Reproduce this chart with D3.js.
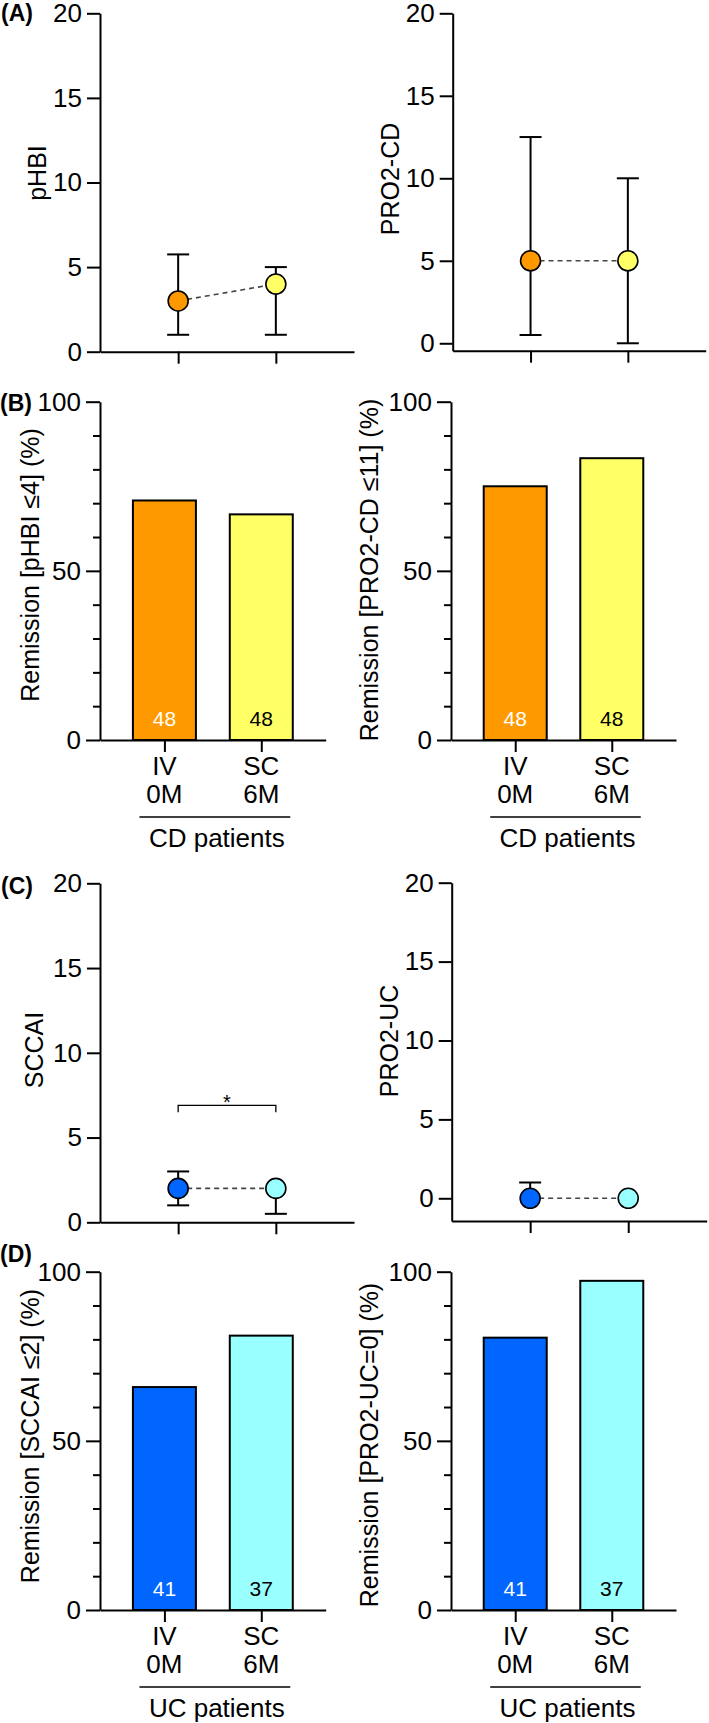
<!DOCTYPE html>
<html>
<head>
<meta charset="utf-8">
<script src="https://cdn.jsdelivr.net/npm/d3@7"></script>
<style>
  html, body { margin: 0; padding: 0; background: #fff; }
  svg { display: block; font-family: "Liberation Sans", Arial, Helvetica, sans-serif; }
</style>
</head>
<body>
<svg id="chart" width="709" height="1723"></svg>
<script>
// ---------------- DATA ----------------
const timepoints = ["IV 0M", "SC 6M"];
const tickLine1 = ["IV", "SC"];
const tickLine2 = ["0M", "6M"];
const scoreTicks = [0, 5, 10, 15, 20];
const pctMajorTicks = [0, 50, 100];
const pctMinorTicks = [10, 20, 30, 40, 60, 70, 80, 90];

// (A) CD activity scores: median with interquartile range
const pHBIMedian = [3, 4];
const pHBILow = [1, 1];
const pHBIHigh = [5.75, 5];
const pro2cdMedian = [5, 5];
const pro2cdLow = [0.5, 0];
const pro2cdHigh = [12.5, 10];

// (B) CD remission rates (%)
const remissionPHBI = [70.8, 66.7];
const remissionPRO2CD = [75.0, 83.3];
const nCD = [48, 48];

// (C) UC activity scores
const sccaiMedian = [2, 2];
const sccaiLow = [1, 0.5];
const sccaiHigh = [3, 2];
const pro2ucMedian = [0, 0];
const pro2ucLow = [0, 0];
const pro2ucHigh = [1, 0];
const sccaiSignificance = 6.9; // bracket level, label "*"

// (D) UC remission rates (%)
const remissionSCCAI = [65.9, 81.1];
const remissionPRO2UC = [80.5, 97.3];
const nUC = [41, 37];

const cdColors = ["#FF9900", "#FFFF66"];
const ucColors = ["#0066FF", "#99FFFF"];
const countColors = ["#FFFFFF", "#000000"];

// ---------------- DRAWING ----------------
const svg = d3.select("#chart");
const FONT = 26;

function styleAxis(g) {
  g.attr("font-family", null).attr("font-size", null);
  g.selectAll("path.domain").attr("stroke", "#000").attr("stroke-width", 2);
  g.selectAll(".tick line").attr("stroke", "#000").attr("stroke-width", 2);
  g.selectAll(".tick text").attr("fill", "#000").style("font-size", FONT + "px");
}

function yTitle(text, x, cy) {
  svg.append("text")
    .attr("transform", `translate(${x},${cy}) rotate(-90)`)
    .attr("text-anchor", "middle")
    .style("font-size", "25px")
    .text(text);
}

function panelLetter(text, x, y) {
  svg.append("text").attr("x", x).attr("y", y)
    .style("font-size", "23px").style("font-weight", "bold").text(text);
}

function scatterPanel(cfg) {
  const y = d3.scaleLinear().domain([cfg.yMin, 20]).range([cfg.bottom, cfg.top]);
  const x = d3.scalePoint().domain(timepoints).range([cfg.left, cfg.right]).padding(0.8);
  const yAxis = svg.append("g").attr("transform", `translate(${cfg.left},0)`)
    .call(d3.axisLeft(y).tickValues(scoreTicks).tickSize(13).tickPadding(5).tickSizeOuter(0));
  styleAxis(yAxis);
  const xAxis = svg.append("g").attr("transform", `translate(0,${cfg.bottom})`)
    .call(d3.axisBottom(x).tickSize(12).tickSizeOuter(0).tickFormat(""));
  styleAxis(xAxis);

  const rows = timepoints.map((t, i) => ({ t, m: cfg.median[i], lo: cfg.low[i], hi: cfg.high[i], c: cfg.colors[i] }));
  // connecting dashed line
  svg.append("path").datum(rows)
    .attr("d", d3.line().x(d => x(d.t)).y(d => y(d.m)))
    .attr("fill", "none").attr("stroke", "#444").attr("stroke-width", 1.6)
    .attr("stroke-dasharray", "5,4");
  // error bars
  const eb = svg.append("g").attr("stroke", "#000").attr("stroke-width", 2);
  rows.forEach(d => {
    if (d.hi > d.m) {
      eb.append("line").attr("x1", x(d.t)).attr("x2", x(d.t)).attr("y1", y(d.m)).attr("y2", y(d.hi));
      eb.append("line").attr("x1", x(d.t) - 11).attr("x2", x(d.t) + 11).attr("y1", y(d.hi)).attr("y2", y(d.hi));
    }
    if (d.lo < d.m) {
      eb.append("line").attr("x1", x(d.t)).attr("x2", x(d.t)).attr("y1", y(d.m)).attr("y2", y(d.lo));
      eb.append("line").attr("x1", x(d.t) - 11).attr("x2", x(d.t) + 11).attr("y1", y(d.lo)).attr("y2", y(d.lo));
    }
  });
  svg.append("g").selectAll("circle").data(rows).join("circle")
    .attr("cx", d => x(d.t)).attr("cy", d => y(d.m)).attr("r", 10)
    .attr("fill", d => d.c).attr("stroke", "#000").attr("stroke-width", 1.6);

  if (cfg.sig != null) {
    const yb = y(cfg.sig);
    const x1 = x(timepoints[0]), x2 = x(timepoints[1]);
    svg.append("path")
      .attr("d", `M${x1},${yb + 7}V${yb}H${x2}V${yb + 7}`)
      .attr("fill", "none").attr("stroke", "#000").attr("stroke-width", 1.3);
    svg.append("text").attr("x", (x1 + x2) / 2).attr("y", yb + 4)
      .attr("text-anchor", "middle").style("font-size", "20px").text("*");
  }
  yTitle(cfg.title, cfg.titleX, cfg.titleY);
}

function barPanel(cfg) {
  const y = d3.scaleLinear().domain([0, 100]).range([cfg.bottom, cfg.top]);
  const x = d3.scalePoint().domain(timepoints).range([cfg.left, cfg.right]).padding(0.665);
  const bw = 63;
  const yAxis = svg.append("g").attr("transform", `translate(${cfg.left},0)`)
    .call(d3.axisLeft(y).tickValues(pctMajorTicks).tickSize(14).tickPadding(5).tickSizeOuter(0));
  styleAxis(yAxis);
  const yMinor = svg.append("g").attr("transform", `translate(${cfg.left},0)`)
    .call(d3.axisLeft(y).tickValues(pctMinorTicks).tickSize(7).tickFormat(""));
  styleAxis(yMinor);
  yMinor.select("path.domain").remove();

  const rows = timepoints.map((t, i) => ({ t, v: cfg.values[i], n: cfg.n[i], c: cfg.colors[i], tc: countColors[i], i }));
  svg.append("g").selectAll("rect").data(rows).join("rect")
    .attr("x", d => x(d.t) - bw / 2).attr("width", bw)
    .attr("y", d => y(d.v)).attr("height", d => y(0) - y(d.v))
    .attr("fill", d => d.c).attr("stroke", "#000").attr("stroke-width", 2);
  svg.append("g").selectAll("text").data(rows).join("text")
    .attr("x", d => x(d.t)).attr("y", y(0) - 14)
    .attr("text-anchor", "middle").style("font-size", "21px")
    .attr("fill", d => d.tc).text(d => d.n);

  const xAxis = svg.append("g").attr("transform", `translate(0,${cfg.bottom})`)
    .call(d3.axisBottom(x).tickSize(12).tickSizeOuter(0).tickFormat(""));
  styleAxis(xAxis);
  const lab = svg.append("g").attr("text-anchor", "middle").style("font-size", FONT + "px");
  rows.forEach(d => {
    lab.append("text").attr("x", x(d.t)).attr("y", cfg.bottom + 35).text(tickLine1[d.i]);
    lab.append("text").attr("x", x(d.t)).attr("y", cfg.bottom + 63).text(tickLine2[d.i]);
  });
  const u1 = x(timepoints[0]) - 25, u2 = x(timepoints[1]) + 29;
  svg.append("line").attr("x1", u1).attr("x2", u2)
    .attr("y1", cfg.bottom + 77).attr("y2", cfg.bottom + 77)
    .attr("stroke", "#000").attr("stroke-width", 1.3);
  svg.append("text").attr("x", (u1 + u2) / 2 + 2).attr("y", cfg.bottom + 107)
    .attr("text-anchor", "middle").style("font-size", "26px").text(cfg.group);
  yTitle(cfg.title, cfg.titleX, cfg.titleY);
}

// (A)
scatterPanel({ left: 100, right: 354, top: 13.3, bottom: 351.7, yMin: 0,
  median: pHBIMedian, low: pHBILow, high: pHBIHigh, colors: cdColors,
  title: "pHBI", titleX: 46, titleY: 173 });
scatterPanel({ left: 452.7, right: 705.7, top: 13.3, bottom: 350.7, yMin: -0.45,
  median: pro2cdMedian, low: pro2cdLow, high: pro2cdHigh, colors: cdColors,
  title: "PRO2-CD", titleX: 399, titleY: 179 });
// (B)
barPanel({ left: 100, right: 325.7, top: 401.7, bottom: 740,
  values: remissionPHBI, n: nCD, colors: cdColors, group: "CD patients",
  title: "Remission [pHBI ≤4] (%)", titleX: 39, titleY: 565 });
barPanel({ left: 451, right: 676, top: 401.7, bottom: 740,
  values: remissionPRO2CD, n: nCD, colors: cdColors, group: "CD patients",
  title: "Remission [PRO2-CD ≤11] (%)", titleX: 378, titleY: 570 });
// (C)
scatterPanel({ left: 100, right: 354, top: 883.3, bottom: 1222.3, yMin: 0,
  median: sccaiMedian, low: sccaiLow, high: sccaiHigh, colors: ucColors, sig: sccaiSignificance,
  title: "SCCAI", titleX: 43, titleY: 1050 });
scatterPanel({ left: 451.7, right: 706.7, top: 882.7, bottom: 1221, yMin: -1.44,
  median: pro2ucMedian, low: pro2ucLow, high: pro2ucHigh, colors: ucColors,
  title: "PRO2-UC", titleX: 398, titleY: 1041 });
// (D)
barPanel({ left: 100, right: 325.7, top: 1271.7, bottom: 1610,
  values: remissionSCCAI, n: nUC, colors: ucColors, group: "UC patients",
  title: "Remission [SCCAI ≤2] (%)", titleX: 39, titleY: 1436 });
barPanel({ left: 451, right: 676, top: 1271.7, bottom: 1610,
  values: remissionPRO2UC, n: nUC, colors: ucColors, group: "UC patients",
  title: "Remission [PRO2-UC=0] (%)", titleX: 378, titleY: 1445 });

panelLetter("(A)", 1, 21);
panelLetter("(B)", 0, 411);
panelLetter("(C)", 1, 894);
panelLetter("(D)", 0, 1262);
</script>
</body>
</html>
